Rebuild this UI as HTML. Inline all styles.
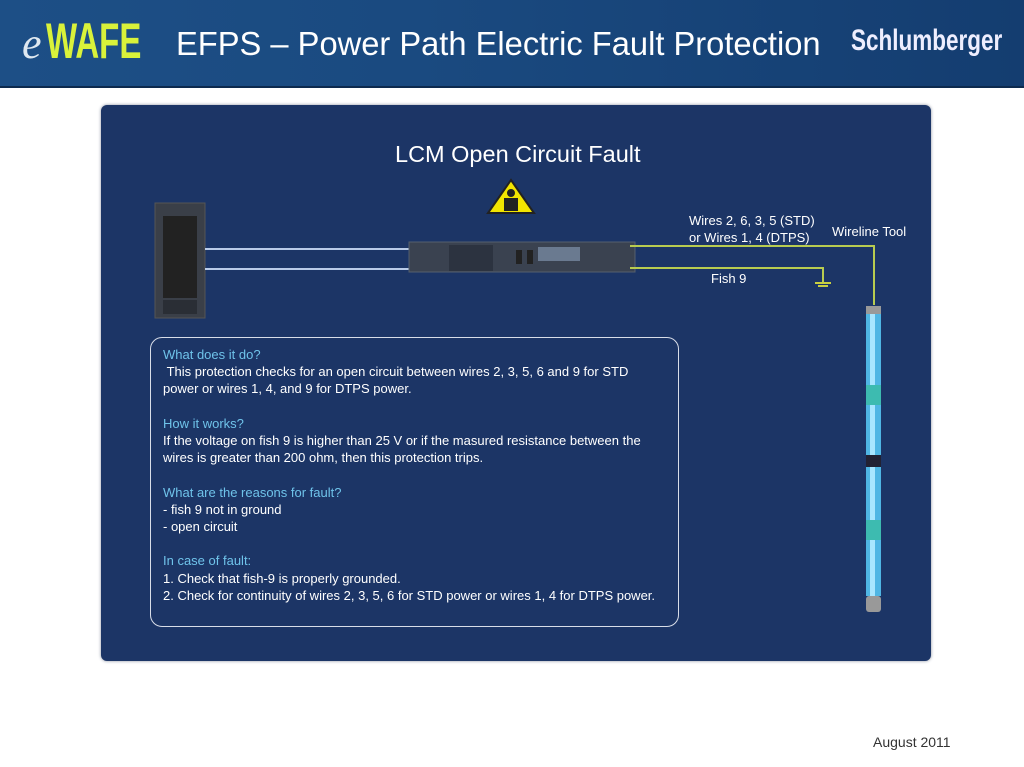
<!DOCTYPE html>
<html><head><style>
*{margin:0;padding:0}
body{width:1024px;height:767px;background:#fff;position:relative;overflow:hidden;font-family:"Liberation Sans",sans-serif}
.hdr{position:absolute;left:0;top:0;width:1024px;height:86px;background:linear-gradient(90deg,#1d4f86,#1a4a80 40%,#143d70);border-bottom:2px solid #0d2a4e}
.t{position:absolute;color:#fff;white-space:nowrap}
.panel{position:absolute;left:101px;top:105px;width:830px;height:556px;background:#1c3566;border-radius:6px;box-shadow:0 0 3px #8890a0}
.box{position:absolute;left:150px;top:337px;width:527px;height:288px;border:1.5px solid #d8dde8;border-radius:12px}
.txt{position:absolute;left:163px;top:346px;font-size:13px;line-height:17.2px;color:#fff}
.c{color:#6fc3ea}
</style></head><body>
<div class="hdr"></div>
<div class="t" style="left:22px;top:18px;font-size:44px;font-style:italic;color:#dfe8f0;font-family:'Liberation Serif',serif">e</div>
<div class="t" style="left:46px;top:12px;font-size:50px;font-weight:bold;color:#d9f23a;transform:scaleX(0.66);transform-origin:left">WAFE</div>
<div class="t" style="left:176px;top:25px;font-size:33px;transform:scaleX(0.99);transform-origin:left">EFPS – Power Path Electric Fault Protection</div>
<div class="t" style="left:851px;top:24px;font-size:30px;font-weight:bold;color:#eef;transform:scaleX(0.75);transform-origin:left">Schlumberger</div>
<div class="panel"></div>
<div class="t" style="left:395px;top:141px;font-size:23.5px">LCM Open Circuit Fault</div>
<svg style="position:absolute;left:0;top:0" width="1024" height="767">
<polygon points="511,180 534,213 488,213" fill="#f2e500" stroke="#222" stroke-width="2"/>
<circle cx="511" cy="193" r="4" fill="#222"/><rect x="504" y="198" width="14" height="13" fill="#222"/>
<rect x="155" y="203" width="50" height="115" fill="#3a3f48" stroke="#555"/>
<rect x="163" y="216" width="34" height="82" fill="#222" />
<rect x="163" y="300" width="34" height="14" fill="#2a2e35"/>
<line x1="205" y1="249" x2="410" y2="249" stroke="#b9cbe8" stroke-width="2"/>
<line x1="205" y1="269" x2="410" y2="269" stroke="#b9cbe8" stroke-width="2"/>
<rect x="409" y="242" width="226" height="30" fill="#3a4250" stroke="#55606e"/>
<rect x="449" y="245" width="44" height="26" fill="#2c3340"/>
<rect x="538" y="247" width="42" height="14" fill="#6a7a90"/>
<rect x="516" y="250" width="6" height="14" fill="#222"/><rect x="527" y="250" width="6" height="14" fill="#222"/>
<polyline points="630,246 874,246 874,305" fill="none" stroke="#b8cc50" stroke-width="2"/>
<polyline points="630,268 823,268 823,283" fill="none" stroke="#b8cc50" stroke-width="2"/>
<line x1="815" y1="283" x2="831" y2="283" stroke="#c9d040" stroke-width="2"/>
<line x1="818" y1="286" x2="828" y2="286" stroke="#c9d040" stroke-width="2"/>
<rect x="866" y="306" width="15" height="8" fill="#999"/>
<rect x="866" y="314" width="15" height="282" fill="#4fb6e4"/>
<rect x="870" y="314" width="5" height="282" fill="#a8e6ff"/>
<rect x="866" y="385" width="15" height="20" fill="#3dbbb0"/>
<rect x="866" y="520" width="15" height="20" fill="#3dbbb0"/>
<rect x="866" y="455" width="15" height="12" fill="#223"/>
<rect x="866" y="596" width="15" height="16" fill="#999" rx="3"/>
</svg>
<div class="t" style="left:689px;top:212px;font-size:13px;line-height:17px">Wires 2, 6, 3, 5 (STD)<br>or Wires 1, 4 (DTPS)</div>
<div class="t" style="left:832px;top:224px;font-size:13px">Wireline Tool</div>
<div class="t" style="left:711px;top:271px;font-size:13px">Fish 9</div>
<div class="box"></div>
<div class="txt">
<span class="c">What does it do?</span><br>
&nbsp;This protection checks for an open circuit between wires 2, 3, 5, 6 and 9 for STD<br>
power or wires 1, 4, and 9 for DTPS power.<br><br>
<span class="c">How it works?</span><br>
If the voltage on fish 9 is higher than 25 V or if the masured resistance between the<br>
wires is greater than 200 ohm, then this protection trips.<br><br>
<span class="c">What are the reasons for fault?</span><br>
- fish 9 not in ground<br>
- open circuit<br><br>
<span class="c">In case of fault:</span><br>
1. Check that fish-9 is properly grounded.<br>
2. Check for continuity of wires 2, 3, 5, 6 for STD power or wires 1, 4 for DTPS power.
</div>
<div class="t" style="left:873px;top:734px;font-size:14px;color:#333">August 2011</div>
</body></html>
